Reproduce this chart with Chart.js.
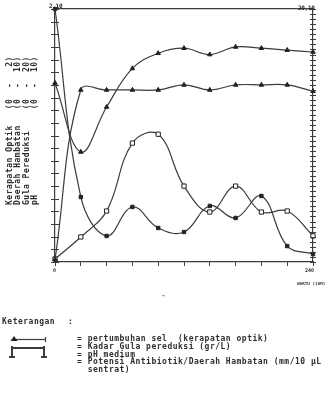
<!DOCTYPE html>
<html>
<head>
<meta charset="utf-8">
<script src="https://cdn.jsdelivr.net/npm/chart.js@4.4.1/dist/chart.umd.min.js"></script>
<style>
body { margin: 0; background: #fff; }
#wrap { position: relative; width: 325px; height: 397px; overflow: hidden; background: #fff; }
canvas { position: absolute; left: 0; top: 0; }
.t { position: absolute; font-family: "DejaVu Sans Mono", monospace; font-weight: bold; color: #2e2e2e; white-space: pre; font-size: 8px; letter-spacing: 0.5px; line-height: 8px; }
</style>
</head>
<body>
<div id="wrap">
<canvas id="myChart" width="325" height="397"></canvas>

<div class="t" style="left:6px; top:205px; line-height:8.3px; transform-origin:0 0; transform:rotate(-90deg);">Kerapatan Optik   (0  -   2)
Daerah Hambatan   (0  -  10)
Gula Pereduksi    (0  -  20)
pH                (0  -  10)</div>

<div class="t" style="left:49px; top:2px; font-size:6px; letter-spacing:-0.3px;">2,10</div>
<div class="t" style="left:298px; top:4px; font-size:6px; letter-spacing:-0.3px;">20,10</div>
<div class="t" style="left:53px; top:266px; font-size:5px; letter-spacing:0;">0</div>
<div class="t" style="left:305px; top:266px; font-size:5px; letter-spacing:0;">240</div>
<div class="t" style="left:297px; top:280px; font-size:4.3px; letter-spacing:0;">WAKTU (JAM)</div>
<div class="t" style="left:161px; top:292px; color:#999;">-</div>

<div class="t" style="left:2px; top:318px;">Keterangan</div>
<div class="t" style="left:68px; top:318px;">:</div>
<div class="t" style="left:77px; top:335px; line-height:7.8px;">= pertumbuhan sel  (kerapatan optik)
= Kadar Gula pereduksi (gr/L)
= pH medium
= Potensi Antibiotik/Daerah Hambatan (mm/10 µL
  sentrat)</div>
</div>

<script>
// waktu (jam) dan nilai tiap kurva (skala kiri 0 - 20)
const hours = [0, 24, 48, 72, 96, 120, 144, 168, 192, 216, 240];
const phValues = [0.2, 13.6, 13.6, 13.6, 13.6, 14.0, 13.6, 14.0, 14.0, 14.0, 13.5];
const growthValues = [14.15, 8.7, 12.25, 15.3, 16.5, 16.9, 16.4, 17.0, 16.9, 16.75, 16.6];
const sugarValues = [20, 5.14, 2.06, 4.35, 2.69, 2.37, 4.43, 3.48, 5.22, 1.26, 0.63];
const zoneValues = [0.24, 1.98, 4.03, 9.4, 10.1, 6.0, 3.95, 6.0, 3.95, 4.03, 2.06];

const lineColor = '#3c3c3c';

function toPoints(values) {
    return hours.map((h, i) => ({ x: h, y: values[i] }));
}

// tick marks that cross the y axes, plus the small legend keys
const crossTicks = {
    id: 'crossTicks',
    afterDraw(chart) {
        const ctx = chart.ctx;
        const area = chart.chartArea;
        ctx.save();
        ctx.strokeStyle = lineColor;
        ctx.lineWidth = 1;
        chart.scales.y.ticks.forEach(t => {
            const py = Math.round(chart.scales.y.getPixelForValue(t.value)) + 0.5;
            ctx.beginPath();
            ctx.moveTo(area.left - 4, py);
            ctx.lineTo(area.left + 4, py);
            ctx.stroke();
        });
        chart.scales.y2.ticks.forEach(t => {
            const py = Math.round(chart.scales.y2.getPixelForValue(t.value)) + 0.5;
            ctx.beginPath();
            ctx.moveTo(area.right - 3, py);
            ctx.lineTo(area.right + 3, py);
            ctx.stroke();
        });

        // legend key 1: line with triangle
        ctx.fillStyle = '#222';
        ctx.lineWidth = 1.2;
        ctx.beginPath();
        ctx.moveTo(14, 339.5);
        ctx.lineTo(45, 339.5);
        ctx.stroke();
        ctx.beginPath();
        ctx.moveTo(14, 336);
        ctx.lineTo(17.5, 341);
        ctx.lineTo(10.5, 341);
        ctx.closePath();
        ctx.fill();
        ctx.beginPath();
        ctx.moveTo(45.5, 337);
        ctx.lineTo(45.5, 342);
        ctx.stroke();

        // legend key 2: I-beam
        ctx.lineWidth = 2;
        ctx.beginPath();
        ctx.moveTo(12, 348);
        ctx.lineTo(44, 348);
        ctx.moveTo(12, 346);
        ctx.lineTo(12, 357);
        ctx.moveTo(44, 346);
        ctx.lineTo(44, 357);
        ctx.moveTo(9, 357);
        ctx.lineTo(15, 357);
        ctx.moveTo(41, 357);
        ctx.lineTo(47, 357);
        ctx.stroke();
        ctx.restore();
    }
};

const baseDataset = {
    borderColor: lineColor,
    borderWidth: 1.2,
    tension: 0.4,
    clip: false,
    pointBorderColor: '#222',
    pointBorderWidth: 1
};

const ctx = document.getElementById('myChart');

const chart = new Chart(ctx, {
    type: 'line',
    data: {
        datasets: [
            {
                ...baseDataset,
                label: 'pH medium',
                data: toPoints(phValues),
                pointStyle: 'triangle',
                pointRadius: 2.6,
                pointBackgroundColor: '#222'
            },
            {
                ...baseDataset,
                label: 'pertumbuhan sel',
                data: toPoints(growthValues),
                pointStyle: 'triangle',
                pointRadius: 2.6,
                pointBackgroundColor: '#222'
            },
            {
                ...baseDataset,
                label: 'Kadar Gula pereduksi',
                data: toPoints(sugarValues),
                pointStyle: 'rect',
                pointRadius: 2.4,
                pointBackgroundColor: '#222'
            },
            {
                ...baseDataset,
                label: 'Potensi Antibiotik',
                data: toPoints(zoneValues),
                pointStyle: 'rect',
                pointRadius: 3,
                pointBackgroundColor: '#fff'
            }
        ]
    },
    options: {
        responsive: false,
        animation: false,
        layout: {
            padding: { left: 55, right: 12, top: 9, bottom: 131 }
        },
        plugins: {
            legend: { display: false },
            tooltip: { enabled: false }
        },
        scales: {
            x: {
                type: 'linear',
                min: 0,
                max: 240,
                ticks: { stepSize: 24, display: false },
                grid: { drawOnChartArea: false, drawTicks: true, tickLength: 4, color: lineColor },
                border: { display: true, color: lineColor, width: 1.2 }
            },
            xTop: {
                type: 'linear',
                position: 'top',
                min: 0,
                max: 240,
                ticks: { display: false },
                grid: { display: false, drawTicks: false },
                border: { display: true, color: lineColor, width: 1.2 }
            },
            y: {
                min: 0,
                max: 20,
                ticks: { stepSize: 1, display: false },
                grid: { drawOnChartArea: false, drawTicks: false },
                border: { display: true, color: lineColor, width: 1.2 }
            },
            y2: {
                position: 'right',
                min: 0,
                max: 50,
                ticks: { stepSize: 1, display: false },
                grid: { drawOnChartArea: false, drawTicks: false },
                border: { display: true, color: lineColor, width: 1.2 }
            }
        }
    },
    plugins: [crossTicks]
});
</script>
</body>
</html>
